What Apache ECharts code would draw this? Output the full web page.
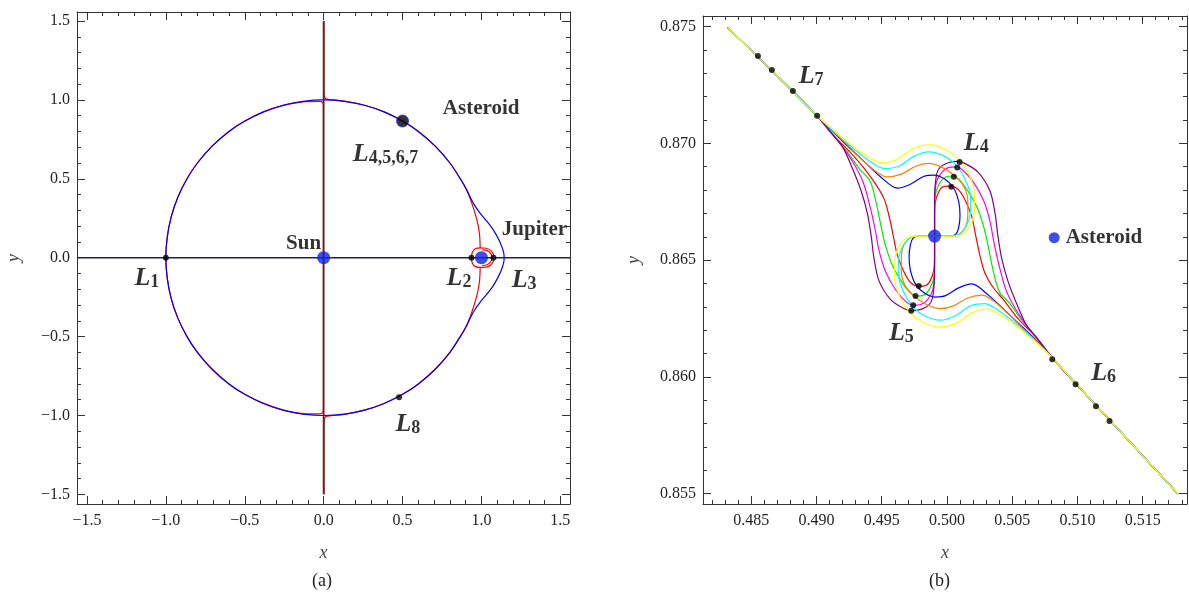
<!DOCTYPE html>
<html>
<head>
<meta charset="utf-8">
<script src="https://cdn.jsdelivr.net/npm/echarts@6/dist/echarts.min.js"></script>
<style>
  html, body { margin: 0; background: #fff; }
  #main { width: 1189px; height: 595px; }
</style>
</head>
<body>
<div id="main"></div>
<script>
// ---------- ticks ----------
const leftMajor = [-1.5, -1, -0.5, 0, 0.5, 1, 1.5];
const leftMinor = [-1.4, -1.3, -1.2, -1.1, -0.9, -0.8, -0.7, -0.6, -0.4, -0.3, -0.2, -0.1,
  0.1, 0.2, 0.3, 0.4, 0.6, 0.7, 0.8, 0.9, 1.1, 1.2, 1.3, 1.4];
const rightXMajor = [0.485, 0.49, 0.495, 0.5, 0.505, 0.51, 0.515];
const rightXMinor = [0.482, 0.483, 0.484, 0.486, 0.487, 0.488, 0.489, 0.491, 0.492, 0.493, 0.494,
  0.496, 0.497, 0.498, 0.499, 0.501, 0.502, 0.503, 0.504, 0.506, 0.507, 0.508, 0.509,
  0.511, 0.512, 0.513, 0.514, 0.516, 0.517, 0.518];
const rightYMajor = [0.855, 0.86, 0.865, 0.87, 0.875];
const rightYMinor = [0.856, 0.857, 0.858, 0.859, 0.861, 0.862, 0.863, 0.864, 0.866, 0.867, 0.868, 0.869,
  0.871, 0.872, 0.873, 0.874];

// ---------- panel (a) ----------
const blueCurve = [[1.144,0],[1.141,0.03],[1.129,0.07],[1.107,0.12],[1.076,0.175],[1.035,0.23],[0.992,0.281],
  [0.949,0.344],[0.907,0.428],[0.866,0.5],[0.80,0.60],[0.707,0.707],[0.60,0.80],[0.50,0.866],[0.383,0.924],
  [0.259,0.966],[0.131,0.991],[0,1],[-0.131,0.991],[-0.259,0.966],[-0.383,0.924],[-0.5,0.866],[-0.6,0.8],
  [-0.707,0.707],[-0.8,0.6],[-0.866,0.5],[-0.924,0.383],[-0.966,0.259],[-0.991,0.131],[-1,0],[-0.991,-0.131],
  [-0.966,-0.259],[-0.924,-0.383],[-0.866,-0.5],[-0.8,-0.6],[-0.707,-0.707],[-0.6,-0.8],[-0.5,-0.866],
  [-0.383,-0.924],[-0.259,-0.966],[-0.131,-0.991],[0,-1],[0.131,-0.991],[0.259,-0.966],[0.383,-0.924],
  [0.5,-0.866],[0.6,-0.8],[0.707,-0.707],[0.8,-0.6],[0.866,-0.5],[0.907,-0.428],[0.949,-0.344],[0.992,-0.281],
  [1.035,-0.23],[1.076,-0.175],[1.107,-0.12],[1.129,-0.07],[1.141,-0.03],[1.144,0]];
const redUpperRight = [[0.002,1.5],[0.002,1.08],[0.004,1.025],[0.013,1.008],[0.04,1.002],[0.131,0.993],
  [0.259,0.966],[0.383,0.924],[0.5,0.866],[0.6,0.8],[0.707,0.707],[0.8,0.6],[0.866,0.5],[0.907,0.428],
  [0.939,0.344],[0.971,0.239],[0.987,0.154],[0.992,0.06]];
const redLowerRight = [[0.992,-0.06],[0.987,-0.154],[0.971,-0.239],[0.939,-0.344],[0.907,-0.428],[0.866,-0.5],
  [0.8,-0.6],[0.707,-0.707],[0.6,-0.8],[0.5,-0.866],[0.383,-0.924],[0.259,-0.966],[0.131,-0.993],
  [0.04,-1.002],[0.013,-1.008],[0.004,-1.025],[0.002,-1.08],[0.002,-1.5]];
const redLeft = [[-0.002,-0.96],[-0.002,0.96],[-0.006,0.982],[-0.025,0.99],[-0.131,0.988],[-0.259,0.964],
  [-0.383,0.922],[-0.5,0.865],[-0.6,0.8],[-0.707,0.707],[-0.8,0.6],[-0.866,0.5],[-0.924,0.383],[-0.966,0.259],
  [-0.991,0.131],[-1,0],[-0.991,-0.131],[-0.966,-0.259],[-0.924,-0.383],[-0.866,-0.5],[-0.8,-0.6],
  [-0.707,-0.707],[-0.6,-0.8],[-0.5,-0.865],[-0.383,-0.922],[-0.259,-0.964],[-0.131,-0.988],[-0.025,-0.99],
  [-0.006,-0.982],[-0.002,-0.96]];
const redRing = [[0.937,0],[0.942,0.035],[0.96,0.055],[0.992,0.062],[1.03,0.06],[1.06,0.045],[1.076,0.02],
  [1.078,0],[1.076,-0.02],[1.06,-0.045],[1.03,-0.06],[0.992,-0.062],[0.96,-0.055],[0.942,-0.035],[0.937,0]];
const redInner = [[1.005,0.05],[1.035,0.045],[1.058,0.027],[1.068,0],[1.058,-0.027],[1.035,-0.045],[1.005,-0.05]];
const xAxisLine = [[-1.563,0],[1.561,0]];
const yAxisLine = [[0,1.5],[0,-1.5]];
const leftBodies = [[0,0],[1,0]];            // Sun, Jupiter
const leftAsteroid = [[0.5,0.866]];
const leftPoints = [[-1,0],[0.937,0],[1.076,0],[0.478,-0.884]];
const leftSymbols = [[0.392,0.66,'4,5,6,7'],[-1.12,-0.125,'1'],[0.858,-0.125,'2'],[1.27,-0.137,'3'],[0.534,-1.05,'8']];
const leftWords = [[0.998,0.947,'Asteroid'],[-0.127,0.091,'Sun']];
const leftWordsLeftAligned = [[1.129,0.175,'Jupiter']];

// ---------- panel (b) ----------
const diagStart = [[0.4832,0.87495],[0.4866,0.8731],[0.4900,0.8712]];
const diagEnd = [[0.5081,0.8608],[0.5114,0.8588],[0.5177,0.8550]];
const yellowMid = [[0.4912,0.87062],[0.4924,0.87005],[0.4934,0.86962],[0.4944,0.86928],[0.4951,0.86916],
  [0.4962,0.86932],[0.4974,0.86977],[0.4987,0.86993],[0.5000,0.86970],[0.5010,0.86925],[0.5017,0.86865],
  [0.5021,0.86790],[0.5021,0.86715],[0.5018,0.86650],[0.5012,0.86612],[0.5004,0.86603],[0.49905,0.86603],
  [0.4977,0.86603],[0.4969,0.86594],[0.4963,0.86556],[0.4960,0.86491],[0.4960,0.86416],[0.4964,0.86341],
  [0.4971,0.86281],[0.4981,0.86236],[0.4994,0.86213],[0.5007,0.86229],[0.5019,0.86274],[0.5030,0.8629],
  [0.5037,0.86278],[0.5047,0.86244],[0.5057,0.86201],[0.5069,0.86144]];
const cyanMid = [[0.4912,0.87058],[0.4924,0.86998],[0.4934,0.86952],[0.4944,0.86912],[0.4952,0.86892],
  [0.4963,0.86902],[0.4975,0.86945],[0.4986,0.86963],[0.4999,0.86942],[0.5008,0.86900],[0.5014,0.86845],
  [0.5018,0.86775],[0.5018,0.86705],[0.5015,0.86648],[0.5010,0.86612],[0.5004,0.86603],[0.49905,0.86603],
  [0.4977,0.86603],[0.4971,0.86594],[0.4966,0.86558],[0.4963,0.86501],[0.4963,0.86431],[0.4967,0.86361],
  [0.4973,0.86306],[0.4982,0.86264],[0.4995,0.86243],[0.5006,0.86261],[0.5018,0.86304],[0.5029,0.86314],
  [0.5037,0.86294],[0.5047,0.86254],[0.5057,0.86208],[0.5069,0.86148]];
const orangeMid = [[0.4912,0.87055],[0.4924,0.86992],[0.4934,0.86935],[0.4944,0.86886],[0.4954,0.86856],
  [0.4965,0.86868],[0.4976,0.86902],[0.4986,0.86914],[0.4997,0.86895],[0.5006,0.86860],[0.5013,0.86815],
  [0.5016,0.86750],[0.5016,0.86690],[0.5014,0.86640],[0.5009,0.86610],[0.5004,0.86603],[0.49905,0.86603],
  [0.4977,0.86603],[0.4972,0.86596],[0.4967,0.86566],[0.4965,0.86516],[0.4965,0.86456],[0.4968,0.86391],
  [0.4975,0.86346],[0.4984,0.86311],[0.4995,0.86292],[0.5005,0.86304],[0.5016,0.86338],[0.5027,0.8635],
  [0.5037,0.8632],[0.5047,0.86271],[0.5057,0.86214],[0.5069,0.86151]];
const blueMid = [[0.4912,0.87052],[0.4924,0.86988],[0.4936,0.86925],[0.4949,0.86857],[0.4962,0.86808],
  [0.4972,0.86825],[0.4982,0.86858],[0.4990,0.86864],[0.4998,0.86848],[0.5005,0.86810],[0.5009,0.86750],
  [0.5010,0.86690],[0.5009,0.86640],[0.5007,0.86612],[0.5003,0.86603],[0.49905,0.86603],[0.4978,0.86603],
  [0.4974,0.86594],[0.4972,0.86566],[0.4971,0.86516],[0.4972,0.86456],[0.4976,0.86396],[0.4983,0.86358],
  [0.4991,0.86342],[0.4999,0.86348],[0.5009,0.86381],[0.5019,0.86398],[0.5032,0.86349],[0.5045,0.86281],
  [0.5057,0.86218],[0.5069,0.86154]];
const redMid = [[0.4912,0.8704],[0.4926,0.8696],[0.4937,0.8689],[0.4946,0.8682],[0.4952,0.8676],[0.4956,0.8668],
  [0.4959,0.8660],[0.4962,0.8652],[0.4967,0.8645],[0.4972,0.86405],[0.4978,0.86389],[0.4983,0.8639],
  [0.4987,0.8641],[0.4990,0.8646],[0.49905,0.8652],[0.49905,0.86603],[0.49905,0.86686],[0.4991,0.86746],
  [0.4994,0.86796],[0.4998,0.86816],[0.5003,0.86817],[0.5009,0.86801],[0.5014,0.86756],[0.5019,0.86686],
  [0.5022,0.86606],[0.5025,0.86526],[0.5029,0.86446],[0.5035,0.86386],[0.5044,0.86326],[0.5055,0.86246],
  [0.5069,0.86166]];
const greenMid = [[0.4912,0.8704],[0.4924,0.8696],[0.4933,0.8689],[0.4941,0.8684],[0.4946,0.8674],[0.4950,0.8663],
  [0.4953,0.8656],[0.4958,0.8648],[0.4965,0.8641],[0.4971,0.86365],[0.4976,0.86346],[0.4982,0.8635],
  [0.4987,0.8638],[0.4990,0.8643],[0.49905,0.8650],[0.49905,0.86603],[0.49905,0.86706],[0.4991,0.86776],
  [0.4994,0.86826],[0.4999,0.86856],[0.5005,0.8686],[0.5010,0.86841],[0.5016,0.86796],[0.5023,0.86726],
  [0.5028,0.86646],[0.5031,0.86576],[0.5035,0.86466],[0.5040,0.86366],[0.5048,0.86316],[0.5057,0.86246],
  [0.5069,0.86166]];
const magentaMid = [[0.4912,0.8704],[0.4922,0.8697],[0.4930,0.8690],[0.4936,0.8683],[0.4941,0.8673],[0.4945,0.8663],
  [0.4948,0.8654],[0.4953,0.8645],[0.4961,0.8637],[0.4969,0.8632],[0.4974,0.86307],[0.4980,0.8631],
  [0.4985,0.8633],[0.4989,0.8637],[0.49905,0.8646],[0.49905,0.86603],[0.49905,0.86746],[0.4992,0.86836],
  [0.4996,0.86876],[0.5001,0.86896],[0.5007,0.86899],[0.5012,0.86886],[0.5020,0.86836],[0.5028,0.86756],
  [0.5033,0.86666],[0.5036,0.86576],[0.5040,0.86476],[0.5045,0.86376],[0.5051,0.86306],[0.5059,0.86236],
  [0.5069,0.86166]];
const purpleMid = [[0.4912,0.8704],[0.4920,0.86985],[0.4927,0.8690],[0.4934,0.8680],[0.4939,0.8670],[0.4942,0.8660],
  [0.4944,0.8651],[0.4948,0.8641],[0.4957,0.8633],[0.4967,0.86293],[0.4973,0.86283],[0.4980,0.86289],
  [0.4986,0.86307],[0.4989,0.8634],[0.49905,0.8645],[0.49905,0.86603],[0.49905,0.86756],[0.4992,0.86866],
  [0.4995,0.86899],[0.5001,0.86917],[0.5008,0.86923],[0.5014,0.86913],[0.5024,0.86876],[0.5033,0.86796],
  [0.5037,0.86696],[0.5039,0.86606],[0.5042,0.86506],[0.5047,0.86406],[0.5054,0.86306],[0.5061,0.86221],
  [0.5069,0.86166]];
const rightAsteroid = [[0.49905,0.86603]];
const rightLegendDot = [[0.50822,0.86596]];
const rightPoints = [[0.48551,0.87374],[0.48658,0.87314],[0.48819,0.87224],[0.49005,0.87118],
  [0.50807,0.86076],[0.50986,0.85969],[0.51142,0.85874],[0.51246,0.85811],
  [0.50033,0.86814],[0.50053,0.86857],[0.50079,0.86896],[0.50097,0.8692],
  [0.49784,0.86389],[0.49759,0.86346],[0.49741,0.86307],[0.49726,0.86283]];
const rightSymbols = [[0.48959,0.8729,'7'],[0.50225,0.87005,'4'],[0.49651,0.8619,'5'],[0.51201,0.8602,'6']];
const rightWordsLeftAligned = [[0.5091,0.86596,'Asteroid']];

const serif = "'Liberation Serif', serif";
const ink = '#222';

function axisGroup(dim, grid, min, max, major, minor, fmt, name, gap) {
  const pos = dim === 'x' ? ['bottom', 'top'] : ['left', 'right'];
  const base = { type: 'value', gridIndex: grid, min: min, max: max, splitLine: { show: false } };
  const line = { show: true, onZero: false, lineStyle: { color: '#333', width: 1 } };
  const noLine = { show: false, onZero: false };
  const tick = (vals, len) => ({ show: true, inside: true, length: len, customValues: vals, lineStyle: { color: '#333', width: 1 } });
  return [
    Object.assign({}, base, {
      position: pos[0], axisLine: line, axisTick: tick(major, 8),
      axisLabel: { show: true, customValues: major, formatter: fmt, margin: dim === 'x' ? 9 : 7,
        fontFamily: serif, fontSize: 16, color: ink },
      name: name, nameLocation: 'middle', nameGap: gap,
      nameTextStyle: { fontFamily: serif, fontStyle: 'italic', fontSize: 18, color: '#444' }
    }),
    Object.assign({}, base, { position: pos[0], axisLine: noLine, axisTick: tick(minor, 4), axisLabel: { show: false } }),
    Object.assign({}, base, { position: pos[1], axisLine: line, axisTick: tick(major, 8), axisLabel: { show: false } }),
    Object.assign({}, base, { position: pos[1], axisLine: noLine, axisTick: tick(minor, 4), axisLabel: { show: false } })
  ];
}

const fmtA = v => (v < 0 ? '\u2212' : '') + Math.abs(v).toFixed(1);
const fmtB = v => v.toFixed(3);

const richL = {
  L: { fontFamily: serif, fontStyle: 'italic', fontWeight: 'bold', fontSize: 26, color: '#000', lineHeight: 28, verticalAlign: 'bottom' },
  s: { fontFamily: serif, fontWeight: 'bold', fontSize: 18, color: '#000', lineHeight: 18, verticalAlign: 'bottom' }
};
const wordStyle = { fontFamily: serif, fontWeight: 'bold', fontSize: 21, color: '#000' };

function curve(data, color, xi, width, z) {
  return { type: 'line', data: data, xAxisIndex: xi, yAxisIndex: xi, symbol: 'none', smooth: 0.3,
    lineStyle: { color: color, width: width || 1.2 }, z: z || 2, silent: true };
}
function dots(data, xi, size, color, extra) {
  return Object.assign({ type: 'scatter', data: data, xAxisIndex: xi, yAxisIndex: xi, symbolSize: size,
    itemStyle: { color: color }, z: 6, silent: true }, extra || {});
}
function symbolLabels(list, xi) {
  return { type: 'scatter', xAxisIndex: xi, yAxisIndex: xi, symbolSize: 0, z: 7, silent: true,
    data: list.map(d => ({ value: [d[0], d[1]], sub: d[2] })),
    label: { show: true, position: 'inside', rich: richL,
      formatter: p => '{L|L}{s|' + p.data.sub + '}' } };
}
function wordLabels(list, xi, position) {
  return { type: 'scatter', xAxisIndex: xi, yAxisIndex: xi, symbolSize: 0, z: 7, silent: true,
    data: list.map(d => ({ value: [d[0], d[1]], word: d[2] })),
    label: Object.assign({ show: true, position: position, distance: 0, formatter: p => p.data.word }, wordStyle) };
}

const chart = echarts.init(document.getElementById('main'));
chart.setOption({
  animation: false,
  backgroundColor: '#fff',
  grid: [
    { left: 77, top: 12, width: 493, height: 492 },
    { left: 703, top: 16, width: 484, height: 488 }
  ],
  xAxis: [].concat(
    axisGroup('x', 0, -1.563, 1.561, leftMajor, leftMinor, fmtA, 'x', 40),
    axisGroup('x', 1, 0.4813, 0.5184, rightXMajor, rightXMinor, fmtB, 'x', 40)
  ),
  yAxis: [].concat(
    axisGroup('y', 0, -1.561, 1.557, leftMajor, leftMinor, fmtA, 'y', 54),
    axisGroup('y', 1, 0.85456, 0.87545, rightYMajor, rightYMinor, fmtB, 'y', 60)
  ),
  graphic: [
    { type: 'text', left: 312, top: 572, style: { text: '(a)', font: "18px 'Liberation Serif', serif", fill: ink } },
    { type: 'text', left: 929, top: 572, style: { text: '(b)', font: "18px 'Liberation Serif', serif", fill: ink } }
  ],
  series: [
    // panel (a)
    curve(redLeft, '#ff0000', 0, 1.2, 2),
    curve(redUpperRight, '#ff0000', 0, 1.2, 2),
    curve(redLowerRight, '#ff0000', 0, 1.2, 2),
    curve(redRing, '#ff0000', 0, 1.2, 2),
    curve(redInner, '#ff0000', 0, 1.2, 2),
    curve(blueCurve, '#0000ff', 0, 1.2, 3),
    Object.assign(curve(yAxisLine, '#5a2424', 0, 1.8, 4), { smooth: false }),
    Object.assign(curve(xAxisLine, '#1e2060', 0, 1.5, 4), { smooth: false }),
    dots(leftBodies, 0, 13, '#1020e8'),
    dots(leftAsteroid, 0, 12, '#000', { itemStyle: { color: '#000', borderColor: '#2030e0', borderWidth: 1 } }),
    dots(leftPoints, 0, 6, '#000'),
    symbolLabels(leftSymbols, 0),
    wordLabels(leftWords, 0, 'inside'),
    wordLabels(leftWordsLeftAligned, 0, 'right'),
    // panel (b)
    curve(diagStart.concat(redMid, diagEnd), '#ff0000', 4),
    curve(diagStart.concat(greenMid, diagEnd), '#00ee00', 4),
    curve(diagStart.concat(magentaMid, diagEnd), '#ff00ff', 4),
    curve(diagStart.concat(purpleMid, diagEnd), '#800080', 4),
    curve(diagStart.concat(blueMid, diagEnd), '#0000ff', 4),
    curve(diagStart.concat(orangeMid, diagEnd), '#ff7f00', 4),
    curve(diagStart.concat(cyanMid, diagEnd), '#00ffff', 4),
    curve(diagStart.concat(yellowMid, diagEnd), '#ffff00', 4),
    dots(rightAsteroid, 4, 13, '#1020e8'),
    dots(rightLegendDot, 4, 11, '#1020e8'),
    dots(rightPoints, 4, 6, '#000'),
    symbolLabels(rightSymbols, 4),
    wordLabels(rightWordsLeftAligned, 4, 'right')
  ]
});
</script>
</body>
</html>
